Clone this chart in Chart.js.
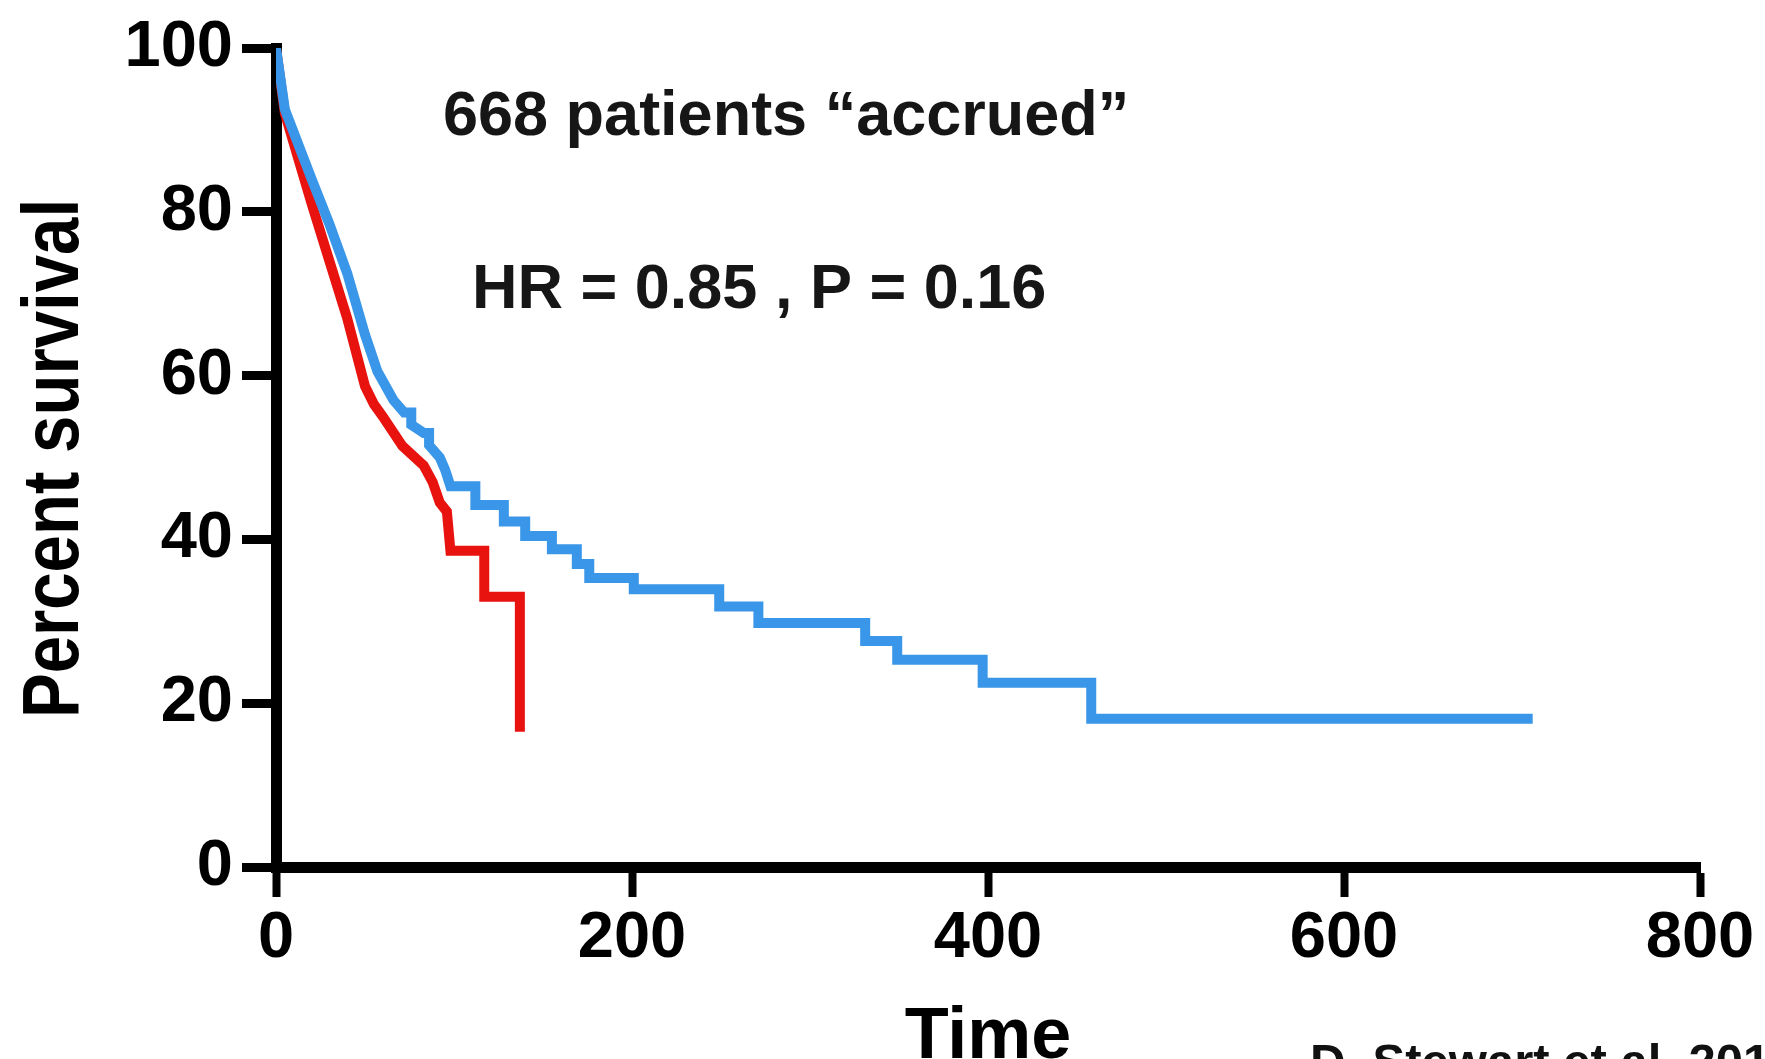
<!DOCTYPE html>
<html>
<head>
<meta charset="utf-8">
<script src="https://cdn.jsdelivr.net/npm/chart.js@4.4.1/dist/chart.umd.min.js"></script>
<style>
  html, body { margin: 0; padding: 0; background: #ffffff; }
  #wrap { width: 1765px; height: 1059px; position: relative; }
</style>
</head>
<body>
<div id="wrap"><canvas id="c" width="1765" height="1059"></canvas></div>
<script>
// ---- Data (curve vertices; a repeated time = a vertical drop) ----
const blueTimes = [0, 5, 20, 30, 40, 50, 57, 66, 72, 76, 76, 83, 86, 86, 92, 95, 98, 112, 112, 128, 128, 140, 140, 155, 155, 169, 169, 176, 176, 201, 201, 249, 249, 271, 271, 331, 331, 349, 349, 397, 397, 458, 458, 706];
const blueSurvival = [100, 92.5, 84, 78.5, 72.5, 65, 60.5, 57, 55.5, 55.5, 54, 53, 53, 51.5, 50, 48.5, 46.5, 46.5, 44.2, 44.2, 42.2, 42.2, 40.4, 40.4, 38.8, 38.8, 37, 37, 35.3, 35.3, 33.9, 33.9, 31.8, 31.8, 29.8, 29.8, 27.6, 27.6, 25.3, 25.3, 22.5, 22.5, 18.1, 18.1];
const redTimes = [0, 5, 20, 30, 40, 50, 55, 60, 71, 83, 88, 92, 96, 98, 117, 117, 137, 137];
const redSurvival = [100, 92, 81, 74, 67, 58.7, 56.5, 55, 51.4, 49, 47, 44.5, 43.4, 38.6, 38.6, 33, 33, 16.5];
const xTicks = [0, 200, 400, 600, 800];
const yTicks = [0, 20, 40, 60, 80, 100];
const xTitle = 'Time';
const yTitle = 'Percent survival';
const noteLine1 = '668 patients \u201Caccrued\u201D';
const noteLine2 = 'HR = 0.85 , P = 0.16';
const footnote = 'D. Stewart et al. 201';

const toPoints = (ts, vs) => ts.map((t, i) => ({ x: t, y: vs[i] }));

const FONT = "'Liberation Sans', Arial, Helvetica, sans-serif";

const textPlugin = {
  id: 'notes',
  afterDraw(chart) {
    const ctx = chart.ctx;
    const area = chart.chartArea;
    ctx.save();
    // annotations inside the plot
    ctx.fillStyle = '#161616';
    ctx.textAlign = 'left';
    ctx.textBaseline = 'alphabetic';
    ctx.font = "bold 63px " + FONT;
    ctx.fillText(noteLine1, 443, 135);
    ctx.fillText(noteLine2, 472, 308);
    // x-axis title
    ctx.fillStyle = '#000';
    ctx.textAlign = 'center';
    ctx.font = "bold 72px " + FONT;
    ctx.fillText(xTitle, (area.left + area.right) / 2, 1058);
    // y-axis title (rotated, slightly condensed like the reference)
    ctx.save();
    ctx.translate(78, (area.top + area.bottom) / 2 + 1);
    ctx.rotate(-Math.PI / 2);
    ctx.scale(0.84, 1);
    ctx.font = "bold 80px " + FONT;
    ctx.textAlign = 'center';
    ctx.fillText(yTitle, 0, 0);
    ctx.restore();
    // source footnote (cut by the edge in the reference)
    ctx.textAlign = 'left';
    ctx.font = "bold 49px " + FONT;
    ctx.fillStyle = '#111111';
    ctx.fillText(footnote, 1310, 1078);
    ctx.restore();
  }
};

new Chart(document.getElementById('c'), {
  type: 'line',
  data: {
    datasets: [
      {
        label: 'blue',
        data: toPoints(blueTimes, blueSurvival),
        borderColor: '#3a96e8',
        borderWidth: 10,
        borderJoinStyle: 'miter',
        pointRadius: 0,
        fill: false,
        tension: 0,
        order: 0
      },
      {
        label: 'red',
        data: toPoints(redTimes, redSurvival),
        borderColor: '#e8120f',
        borderWidth: 10,
        borderJoinStyle: 'miter',
        pointRadius: 0,
        fill: false,
        tension: 0,
        order: 1
      }
    ]
  },
  options: {
    responsive: false,
    animation: false,
    layout: { padding: { top: 37, right: 65, left: 0, bottom: 0 } },
    plugins: { legend: { display: false }, tooltip: { enabled: false } },
    scales: {
      x: {
        type: 'linear',
        min: 0, max: 800,
        afterBuildTicks: (s) => { s.ticks = xTicks.map(v => ({ value: v })); },
        afterFit: (s) => { s.height = 192; },
        ticks: { color: '#000', padding: 3, maxRotation: 0, autoSkip: false,
                 font: { family: FONT, size: 65, weight: 'bold' } },
        grid: { display: true, drawOnChartArea: false, drawTicks: true, tickLength: 30, tickWidth: 8, tickColor: '#000' },
        border: { display: true, width: 11, color: '#000' },
        title: { display: false }
      },
      y: {
        type: 'linear',
        min: 0, max: 100,
        afterBuildTicks: (s) => { s.ticks = yTicks.map(v => ({ value: v })); },
        afterFit: (s) => { s.width = 276; },
        ticks: { color: '#000', padding: 9,
                 font: { family: FONT, size: 65, weight: 'bold' } },
        grid: { display: true, drawOnChartArea: false, drawTicks: true, tickLength: 34, tickWidth: 9, tickColor: '#000' },
        border: { display: true, width: 11, color: '#000' },
        title: { display: false }
      }
    }
  },
  plugins: [textPlugin]
});
</script>
</body>
</html>
